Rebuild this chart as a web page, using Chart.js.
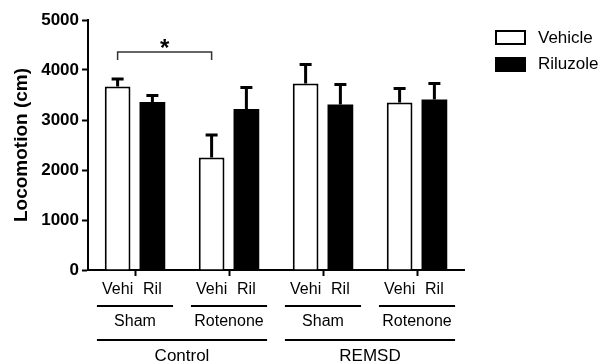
<!DOCTYPE html>
<html><head><meta charset="utf-8">
<script src="https://cdn.jsdelivr.net/npm/chart.js@4"></script>
<style>html,body{margin:0;padding:0;background:#fff}#wrap{width:600px;height:362px}</style>
</head><body><div id="wrap"><canvas id="c" width="600" height="362"></canvas></div>
<script>
const groups = ['Control', 'REMSD'];
const categories = ['Sham', 'Rotenone', 'Sham', 'Rotenone'];
const treatments = ['Vehi', 'Ril'];
const seriesNames = ['Vehicle', 'Riluzole'];
const vehicleMean = [3670, 2250, 3730, 3350];
const vehicleErr = [150, 450, 380, 280];
const riluzoleMean = [3360, 3220, 3310, 3410];
const riluzoleErr = [130, 430, 400, 320];
const yTicks = [0, 1000, 2000, 3000, 4000, 5000];
const sigBracket = { from: 0, to: 1, value: 4360, label: '*' };

const FONT = '"Liberation Sans", Arial, sans-serif';

const overlay = {
  id: 'overlay',
  afterDatasetsDraw(chart) {
    const ctx = chart.ctx;
    const xs = chart.scales.x, ys = chart.scales.y;
    ctx.save();
    // error bars
    chart.data.datasets.forEach((ds, i) => {
      const meta = chart.getDatasetMeta(i);
      meta.data.forEach((bar, j) => {
        const top = ys.getPixelForValue(ds.data[j] + ds.errors[j]);
        ctx.strokeStyle = '#000';
        ctx.lineWidth = 3;
        ctx.beginPath();
        ctx.moveTo(bar.x, bar.y);
        ctx.lineTo(bar.x, top);
        ctx.moveTo(bar.x - 6, top);
        ctx.lineTo(bar.x + 6, top);
        ctx.stroke();
      });
    });
    // significance bracket
    const m0 = chart.getDatasetMeta(0);
    const bx1 = m0.data[sigBracket.from].x, bx2 = m0.data[sigBracket.to].x;
    const by = ys.getPixelForValue(sigBracket.value);
    ctx.strokeStyle = '#333';
    ctx.lineWidth = 1.5;
    ctx.beginPath();
    ctx.moveTo(bx1, by + 8); ctx.lineTo(bx1, by); ctx.lineTo(bx2, by); ctx.lineTo(bx2, by + 8);
    ctx.stroke();
    ctx.fillStyle = '#000';
    ctx.font = 'bold 24px ' + FONT;
    ctx.textAlign = 'center';
    ctx.textBaseline = 'top';
    ctx.fillText(sigBracket.label, (bx1 + bx2) / 2, by - 15);

    // multi-level x labels
    const catW = xs.width / categories.length;
    const half = catW * 0.405;
    ctx.textBaseline = 'middle';
    ctx.font = '16px ' + FONT;
    ctx.fillStyle = '#000';
    ctx.strokeStyle = '#000';
    ctx.lineWidth = 2;
    categories.forEach((c, j) => {
      chart.data.datasets.forEach((ds, i) => {
        const bar = chart.getDatasetMeta(i).data[j];
        ctx.fillText(treatments[i], bar.x, 290);
      });
      const cx = xs.getPixelForValue(j);
      ctx.beginPath();
      ctx.moveTo(cx - half, 306); ctx.lineTo(cx + half, 306);
      ctx.stroke();
      ctx.fillText(c, cx, 322);
    });
    ctx.font = '17px ' + FONT;
    groups.forEach((g, k) => {
      const a = xs.getPixelForValue(k * 2) - half;
      const b = xs.getPixelForValue(k * 2 + 1) + half;
      ctx.beginPath();
      ctx.moveTo(a, 340); ctx.lineTo(b, 340);
      ctx.stroke();
      ctx.fillText(g, (a + b) / 2, 356);
    });

    // legend
    ctx.lineWidth = 2;
    ctx.strokeStyle = '#000';
    ctx.fillStyle = '#fff';
    ctx.fillRect(496, 31, 29, 13);
    ctx.strokeRect(496, 31, 29, 13);
    ctx.fillStyle = '#000';
    ctx.fillRect(495, 57, 31, 15);
    ctx.font = '17px ' + FONT;
    ctx.textAlign = 'left';
    ctx.textBaseline = 'middle';
    ctx.fillText(seriesNames[0], 538, 38);
    ctx.fillText(seriesNames[1], 538, 64);
    ctx.restore();
  }
};

new Chart(document.getElementById('c'), {
  type: 'bar',
  data: {
    labels: categories,
    datasets: [
      { label: seriesNames[0], data: vehicleMean, errors: vehicleErr, backgroundColor: '#fff', borderColor: '#000', borderWidth: 2 },
      { label: seriesNames[1], data: riluzoleMean, errors: riluzoleErr, backgroundColor: '#000', borderColor: '#000', borderWidth: 0 }
    ]
  },
  options: {
    responsive: false,
    animation: false,
    devicePixelRatio: 1,
    categoryPercentage: 0.74,
    barPercentage: 0.74,
    layout: { padding: { top: 20, right: 136, left: 0, bottom: 0 } },
    plugins: { legend: { display: false }, tooltip: { enabled: false } },
    scales: {
      x: {
        grid: { display: true, drawOnChartArea: false, drawTicks: true, offset: false, tickLength: 6, tickWidth: 2, tickColor: '#000' },
        border: { display: true, color: '#000', width: 2 },
        ticks: { display: false },
        afterFit(s) { s.height = 92; }
      },
      y: {
        min: 0, max: 5000,
        afterBuildTicks(s) { s.ticks = yTicks.map(v => ({ value: v })); },
        grid: { drawOnChartArea: false, tickLength: 6, tickWidth: 2, tickColor: '#000' },
        border: { color: '#000', width: 2 },
        ticks: { color: '#000', padding: 3, font: { family: FONT, size: 17, weight: 'bold' }, callback: v => String(v) },
        title: { display: true, text: 'Locomotion (cm)', color: '#000', font: { family: FONT, size: 19, weight: 'bold' }, padding: { top: 10, bottom: 0 } },
        afterFit(s) { s.width = 88; }
      }
    }
  },
  plugins: [overlay]
});
</script>
</body></html>
